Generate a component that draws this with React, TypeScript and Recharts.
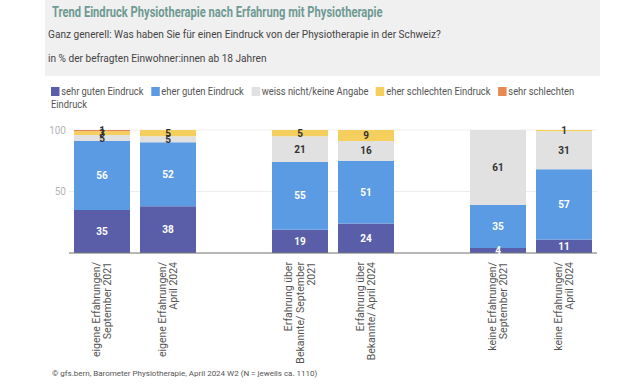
import React from 'react';
import { BarChart, Bar, XAxis, YAxis, CartesianGrid, LabelList } from 'recharts';

const categories = [
  'eigene Erfahrungen/\nSeptember 2021',
  'eigene Erfahrungen/\nApril 2024',
  ' ',
  'Erfahrung über\nBekannte/ September\n2021',
  'Erfahrung über\nBekannte/ April 2024',
  '  ',
  'keine Erfahrungen/\nSeptember 2021',
  'keine Erfahrungen/\nApril 2024',
];
const sehrGut = [35, 38, null, 19, 24, null, 4, 11];
const eherGut = [56, 52, null, 55, 51, null, 35, 57];
const weissNicht = [5, 5, null, 21, 16, null, 61, 31];
const eherSchlecht = [3, 5, null, 5, 9, null, null, 1];
const sehrSchlecht = [1, null, null, null, null, null, null, null];
const yTicks = [50, 100];

const series = [
  { key: 'sehrGut', name: 'sehr guten Eindruck', color: '#5a5ea8', label: '#ffffff', values: sehrGut },
  { key: 'eherGut', name: 'eher guten Eindruck', color: '#5b9be3', label: '#ffffff', values: eherGut },
  { key: 'weissNicht', name: 'weiss nicht/keine Angabe', color: '#e1e1e1', label: '#333333', values: weissNicht },
  { key: 'eherSchlecht', name: 'eher schlechten Eindruck', color: '#f5cf5e', label: '#333333', values: eherSchlecht },
  { key: 'sehrSchlecht', name: 'sehr schlechten Eindruck', color: '#e8894f', label: '#333333', values: sehrSchlecht },
];

const data = categories.map((c, i) => {
  const row: any = { cat: c };
  series.forEach((s) => {
    row[s.key] = s.values[i];
  });
  return row;
});

const FONT = 'Roboto, "Noto Sans", sans-serif';

const XTick = (props: any) => {
  const { x, y, payload } = props;
  const lines: string[] = String(payload.value).split('\n').filter((l) => l.trim() !== '');
  const lh = 11.5;
  const start = -((lines.length - 1) * lh) / 2 + 3.5;
  return (
    <g transform={`translate(${x},${y + 1}) rotate(-90)`}>
      {lines.map((l, i) => (
        <text key={i} x={0} y={start + i * lh} textAnchor="end" fontSize={10.5} fill="#555" fontFamily={FONT}>
          {l}
        </text>
      ))}
    </g>
  );
};

const LEG_SCALE = 0.85;

export default function App() {
  return (
    <div style={{ position: 'absolute', left: 0, top: 0, width: 640, height: 385, background: '#fff', fontFamily: FONT }}>
      <div style={{ position: 'absolute', left: 45, top: 0, width: 555, height: 76, background: '#f0f0f0' }}>
        <div style={{ position: 'absolute', left: 7, top: 4, fontSize: 14.5, fontWeight: 'bold', color: '#6f9a93', whiteSpace: 'nowrap', transform: 'scaleX(0.77)', transformOrigin: 'left top' }}>
          Trend Eindruck Physiotherapie nach Erfahrung mit Physiotherapie
        </div>
        <div style={{ position: 'absolute', left: 3, top: 28, fontSize: 11, color: '#444', whiteSpace: 'nowrap', transform: 'scaleX(0.92)', transformOrigin: 'left top' }}>
          Ganz generell: Was haben Sie für einen Eindruck von der Physiotherapie in der Schweiz?
        </div>
        <div style={{ position: 'absolute', left: 3, top: 52, fontSize: 11, color: '#444', whiteSpace: 'nowrap', transform: 'scaleX(0.92)', transformOrigin: 'left top' }}>
          in % der befragten Einwohner:innen ab 18 Jahren
        </div>
      </div>
      <div style={{ position: 'absolute', left: 51, top: 85, width: 552 / LEG_SCALE, fontSize: 11, lineHeight: '13px', color: '#555', transform: `scaleX(${LEG_SCALE})`, transformOrigin: 'left top' }}>
        {series.map((s) => (
          <span key={s.key} style={{ marginRight: 9 }}>
            <span style={{ display: 'inline-block', width: 10, height: 9, background: s.color, marginRight: 2, verticalAlign: '-1px' }} />
            {s.name}
          </span>
        ))}
      </div>
      <div style={{ position: 'absolute', left: 0, top: 0 }}>
        <BarChart width={640} height={385} data={data} margin={{ top: 130, right: 43, left: 39, bottom: 0 }} barSize={56}>
          <CartesianGrid vertical={false} stroke="#eeeeee" />
          <XAxis
            dataKey="cat"
            interval={0}
            height={132}
            tickLine={false}
            axisLine={{ stroke: '#777' }}
            tick={<XTick />}
          />
          <YAxis
            width={30}
            domain={[0, 100]}
            ticks={yTicks}
            axisLine={false}
            tickLine={false}
            tick={{ fontSize: 10, fill: '#b5b5b5', fontFamily: FONT, dx: 5 }}
          />
          {series.map((s) => (
            <Bar key={s.key} dataKey={s.key} name={s.name} stackId="a" fill={s.color} isAnimationActive={false}>
              <LabelList
                dataKey={s.key}
                position="center"
                formatter={(v: any) => (v == null ? '' : v)}
                fill={s.label}
                fontSize={10}
                fontWeight="bold"
                fontFamily={FONT}
              />
            </Bar>
          ))}
        </BarChart>
      </div>
      <div style={{ position: 'absolute', left: 52, top: 369, fontSize: 8, color: '#555', whiteSpace: 'nowrap' }}>
        © gfs.bern, Barometer Physiotherapie, April 2024 W2 (N = jeweils ca. 1110)
      </div>
    </div>
  );
}
